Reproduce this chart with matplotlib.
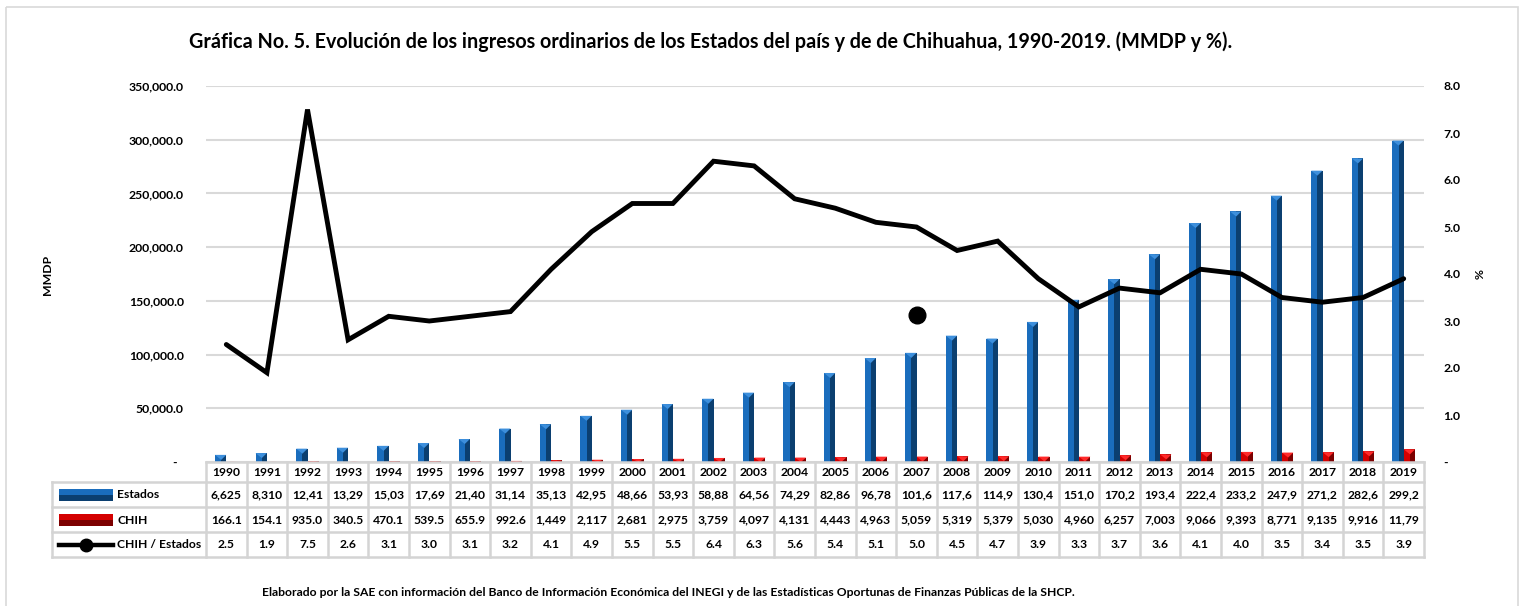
import matplotlib
matplotlib.use("Agg")
import matplotlib.pyplot as plt
from matplotlib.patches import Rectangle
from matplotlib.lines import Line2D
from matplotlib.ticker import FuncFormatter, MultipleLocator

plt.rcParams['font.family'] = ['Lato', 'DejaVu Sans']
plt.rcParams['font.weight'] = 'bold'

# ---------------- data ----------------
years = [1990, 1991, 1992, 1993, 1994, 1995, 1996, 1997, 1998, 1999,
         2000, 2001, 2002, 2003, 2004, 2005, 2006, 2007, 2008, 2009,
         2010, 2011, 2012, 2013, 2014, 2015, 2016, 2017, 2018, 2019]
estados = [6625.0, 8310.0, 12410.0, 13290.0, 15030.0, 17690.0, 21400.0, 31140.0,
           35130.0, 42950.0, 48660.0, 53930.0, 58880.0, 64560.0, 74290.0, 82860.0,
           96780.0, 101600.0, 117600.0, 114900.0, 130400.0, 151000.0, 170200.0,
           193400.0, 222400.0, 233200.0, 247900.0, 271200.0, 282600.0, 299200.0]
chih = [166.1, 154.1, 935.0, 340.5, 470.1, 539.5, 655.9, 992.6, 1449.0, 2117.0,
        2681.0, 2975.0, 3759.0, 4097.0, 4131.0, 4443.0, 4963.0, 5059.0, 5319.0,
        5379.0, 5030.0, 4960.0, 6257.0, 7003.0, 9066.0, 9393.0, 8771.0, 9135.0,
        9916.0, 11790.0]
ratio = [2.5, 1.9, 7.5, 2.6, 3.1, 3.0, 3.1, 3.2, 4.1, 4.9, 5.5, 5.5, 6.4, 6.3, 5.6,
         5.4, 5.1, 5.0, 4.5, 4.7, 3.9, 3.3, 3.7, 3.6, 4.1, 4.0, 3.5, 3.4, 3.5, 3.9]
# stray single marker drawn in the original chart
marker_year = 2007
marker_value = 3.12

series_names = ["Estados", "CHIH", "CHIH / Estados"]
title = ("Gráfica No. 5. Evolución de los ingresos ordinarios de los Estados del país "
         "y de de Chihuahua, 1990-2019. (MMDP y %).")
footer = ("Elaborado por la SAE con información del Banco de Información Económica del "
          "INEGI y de las Estadísticas Oportunas de Finanzas Públicas de la SHCP.")

# ---------------- layout ----------------
W, H = 1525, 606
fig = plt.figure(figsize=(W / 100, H / 100), dpi=100)
L, R, T, B = 206, 1424, 86, 462
ax = fig.add_axes([L / W, 1 - B / H, (R - L) / W, (B - T) / H])
ax2 = ax.twinx()
ov = fig.add_axes([0, 0, 1, 1], zorder=5)
ov.set_xlim(0, W)
ov.set_ylim(H, 0)
ov.axis('off')
ov.patch.set_alpha(0)

n = len(years)
x = list(range(n))
ax.set_xlim(-0.5, n - 0.5)
ax.set_ylim(0, 350000)
ax2.set_ylim(0, 8)

BLUE_L, BLUE_D, BLUE_T = '#1a6dbd', '#0b3f70', '#3d8fdc'
RED_L, RED_D, RED_T = '#d40000', '#7c0000', '#ff2a2a'

bw = 0.28
# Estados bars (left light face, right dark face)
ax.bar([i - bw for i in x], estados, width=bw * 0.55, align='edge',
       color=BLUE_L, zorder=3, linewidth=0)
ax.bar([i - bw * 0.45 for i in x], estados, width=bw * 0.45, align='edge',
       color=BLUE_D, zorder=3, linewidth=0)
# CHIH bars
ax.bar([i for i in x], chih, width=bw * 0.55, align='edge',
       color=RED_L, zorder=3, linewidth=0)
ax.bar([i + bw * 0.55 for i in x], chih, width=bw * 0.45, align='edge',
       color=RED_D, zorder=3, linewidth=0)

# bevelled tops (small triangles) built from the data heights
ppu = 350000 / (B - T)  # value per pixel
for i, v in enumerate(estados):
    h = min(5 * ppu, v)
    ax.fill([i - bw, i, i - bw * 0.45], [v, v, v - h], color=BLUE_T, zorder=4, lw=0)
for i, v in enumerate(chih):
    h = min(5 * ppu, v)
    ax.fill([i, i + bw, i + bw * 0.55], [v, v, v - h], color=RED_T, zorder=4, lw=0)

ax.yaxis.set_major_locator(MultipleLocator(50000))
ax.yaxis.grid(True, color='#d9d9d9', lw=1.5, zorder=0)
ax.set_axisbelow(True)
ax.set_xticks([])
ax.yaxis.set_major_formatter(FuncFormatter(
    lambda v, p: "-  " if v == 0 else f"{v:,.1f}"))
ax.tick_params(axis='y', length=0, pad=16, labelsize=8.8)
for s in ax.spines.values():
    s.set_visible(False)

ax2.plot(x, ratio, color='black', lw=3.5, solid_joinstyle='miter',
         solid_capstyle='round', zorder=6)
ax2.plot([years.index(marker_year)], [marker_value], 'o', color='black',
         markersize=12, zorder=7)
ax2.yaxis.set_major_locator(MultipleLocator(1))
ax2.yaxis.set_major_formatter(FuncFormatter(
    lambda v, p: "-" if v == 0 else f"{v:.1f}"))
ax2.tick_params(axis='y', length=0, pad=14, labelsize=8.8)
for s in ax2.spines.values():
    s.set_visible(False)
ax.set_zorder(1)
ax2.set_zorder(2)

# axis titles
fig.text(48 / W, 1 - 275 / H, "MMDP", rotation=90, ha='center', va='center',
         fontsize=8.8, fontweight='bold')
fig.text(1477 / W, 1 - 274 / H, "%", rotation=270, ha='center', va='center',
         fontsize=8.8, fontweight='bold')

# title and footer, fitted to the original widths
renderer = fig.canvas.get_renderer()


def fitted_text(xc, yc, s, target_w, size0):
    t = fig.text(xc / W, 1 - yc / H, s, ha='center', va='center',
                 fontsize=size0, fontweight='bold')
    w = t.get_window_extent(renderer).width
    t.set_fontsize(size0 * target_w / w)
    return t


fitted_text(711, 42, title, 1043, 13)
fitted_text(668, 593, footer, 823, 7)

# ---------------- data table ----------------
colw = (R - L) / n
rows_y = [462, 482, 507, 532, 557]
tcol = '#d4d4d4'
tlw = 1.8
left_tab = 52
ov.add_line(Line2D([L, R], [rows_y[0], rows_y[0]], color=tcol, lw=tlw))
for yy in rows_y[1:]:
    ov.add_line(Line2D([left_tab, R], [yy, yy], color=tcol, lw=tlw))
for i in range(n + 1):
    xx = L + i * colw
    ov.add_line(Line2D([xx, xx], [rows_y[0], rows_y[-1]], color=tcol, lw=tlw))
ov.add_line(Line2D([left_tab, left_tab], [rows_y[1], rows_y[-1]], color=tcol, lw=tlw))


def cell_fmt(v):
    return f"{v:,.1f}"[:5]


fs_tab = 8.7
for i in range(n):
    xc = L + (i + 0.5) * colw
    ov.text(xc, (rows_y[0] + rows_y[1]) / 2 + 0.5, str(years[i]), ha='center',
            va='center', fontsize=fs_tab, fontweight='bold')
    ov.text(xc, (rows_y[1] + rows_y[2]) / 2 + 0.5, cell_fmt(estados[i]), ha='center',
            va='center', fontsize=fs_tab, fontweight='bold')
    ov.text(xc, (rows_y[2] + rows_y[3]) / 2 + 0.5, cell_fmt(chih[i]), ha='center',
            va='center', fontsize=fs_tab, fontweight='bold')
    ov.text(xc, (rows_y[3] + rows_y[4]) / 2 + 0.5, f"{ratio[i]:.1f}", ha='center',
            va='center', fontsize=fs_tab, fontweight='bold')

# legend keys
kx0, kx1 = 59, 113
ym = (rows_y[1] + rows_y[2]) / 2
ov.add_patch(Rectangle((kx0, ym - 6), kx1 - kx0, 6, color=BLUE_L, lw=0))
ov.add_patch(Rectangle((kx0, ym), kx1 - kx0, 6, color=BLUE_D, lw=0))
ym = (rows_y[2] + rows_y[3]) / 2
ov.add_patch(Rectangle((kx0, ym - 6), kx1 - kx0, 6, color=RED_L, lw=0))
ov.add_patch(Rectangle((kx0, ym), kx1 - kx0, 6, color=RED_D, lw=0))
ym = (rows_y[3] + rows_y[4]) / 2
ov.add_line(Line2D([kx0, kx1], [ym, ym], color='black', lw=3.2))
ov.plot([(kx0 + kx1) / 2], [ym], 'o', color='black', markersize=9)
for k, name in enumerate(series_names):
    ov.text(117, (rows_y[k + 1] + rows_y[k + 2]) / 2 + 0.5, name, ha='left',
            va='center', fontsize=fs_tab, fontweight='bold')

# outer frame
ov.add_patch(Rectangle((6, 7), 1512, 610, fill=False, edgecolor='#d9d9d9', lw=1.2))

fig.savefig("out.png", dpi=100)
